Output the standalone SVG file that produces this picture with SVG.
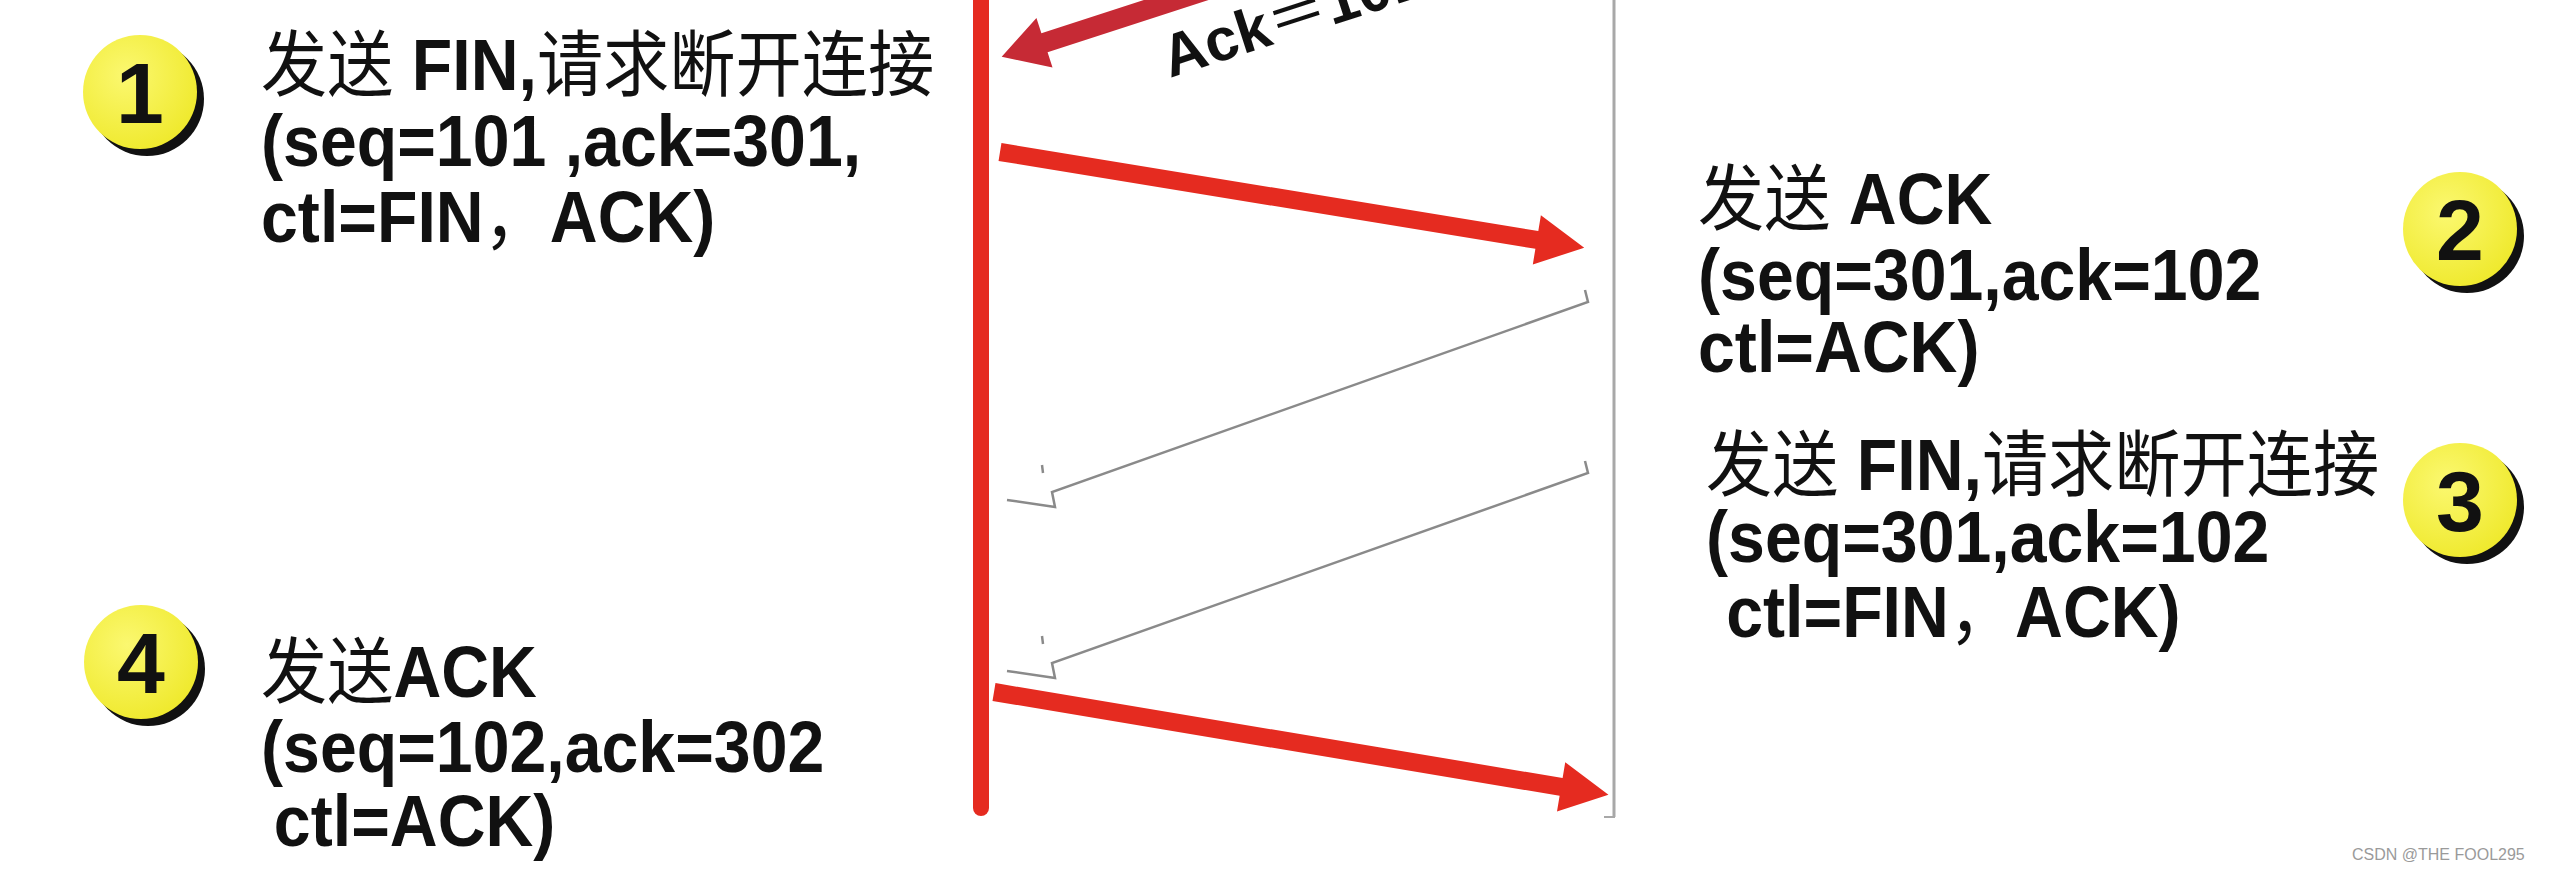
<svg xmlns="http://www.w3.org/2000/svg" width="2560" height="869" viewBox="0 0 2560 869">
<style>
.t{font-family:"Liberation Sans","Noto Sans CJK SC",sans-serif;font-size:72px;font-weight:bold;fill:#111}
.c{font-family:"Noto Sans CJK SC",sans-serif;font-weight:normal}
.num{font-family:"Liberation Sans",sans-serif;font-size:86px;font-weight:bold;fill:#111;text-anchor:middle}
.red{fill:#e52b20}
.gray{fill:none;stroke:#8a8a8a;stroke-width:2.5;stroke-linejoin:miter}
</style>
<defs>
<radialGradient id="yg" cx="0.38" cy="0.35" r="0.7">
<stop offset="0" stop-color="#fbf870"/>
<stop offset="1" stop-color="#efe92c"/>
</radialGradient>
</defs>
<rect width="2560" height="869" fill="#ffffff"/>

<g id="timelines">
<line x1="981" y1="-10" x2="981" y2="808" stroke="#e52b20" stroke-width="16" stroke-linecap="round"/>
<line x1="1614" y1="0" x2="1614" y2="817" stroke="#a8a8a8" stroke-width="3"/>
<line x1="1604" y1="817" x2="1615" y2="817" stroke="#a8a8a8" stroke-width="2"/>
</g>

<g id="connectors">
<path transform="translate(1287,-36) rotate(162)" fill="#c62a35" d="M0,-10 L255,-10 L255,-26 L300,0 L255,26 L255,10 L0,10 Z"/>
<path class="red" transform="translate(1000,152) rotate(9.3)" d="M0,-9 L544,-9 L544,-25 L592,0 L544,25 L544,9 L0,9 Z"/>
<path class="gray" d="M1585,290 L1588,302 L1052,492 L1055,507 L1007,500"/>
<path class="gray" d="M1042,465 L1043,473"/>
<path class="gray" d="M1585,461 L1588,473 L1052,663 L1055,678 L1007,671"/>
<path class="gray" d="M1042,636 L1043,644"/>
<path class="red" transform="translate(994,692) rotate(9.5)" d="M0,-9 L575,-9 L575,-25 L623,0 L575,25 L575,9 L0,9 Z"/>
<text x="1170" y="78" transform="rotate(-18 1170 78)" font-family="Liberation Sans, Noto Sans CJK SC, sans-serif" font-size="60" font-weight="bold" fill="#111">Ack<tspan class="c">＝</tspan>101</text>
</g>

<g id="step1">
<circle cx="147" cy="99" r="57" fill="#111"/>
<circle cx="140" cy="92" r="57" fill="url(#yg)"/>
<text class="num" x="140" y="123">1</text>
<g transform="translate(261,0) scale(0.92,1)">
<text class="t" x="0" y="90"><tspan class="c">发送</tspan> FIN,<tspan class="c">请求断开连接</tspan></text>
<text class="t" x="0" y="166">(seq=101 ,ack=301,</text>
<text class="t" x="0" y="242">ctl=FIN<tspan class="c">，</tspan>ACK)</text>
</g>
</g>

<g id="step2">
<circle cx="2467" cy="236" r="57" fill="#111"/>
<circle cx="2460" cy="229" r="57" fill="url(#yg)"/>
<text class="num" x="2460" y="260">2</text>
<g transform="translate(1698,0) scale(0.92,1)">
<text class="t" x="0" y="224"><tspan class="c">发送</tspan> ACK</text>
<text class="t" x="0" y="300">(seq=301,ack=102</text>
<text class="t" x="0" y="372">ctl=ACK)</text>
</g>
</g>

<g id="step3">
<circle cx="2467" cy="507" r="57" fill="#111"/>
<circle cx="2460" cy="500" r="57" fill="url(#yg)"/>
<text class="num" x="2460" y="531">3</text>
<g transform="translate(1706,0) scale(0.92,1)">
<text class="t" x="0" y="490"><tspan class="c">发送</tspan> FIN,<tspan class="c">请求断开连接</tspan></text>
<text class="t" x="0" y="562">(seq=301,ack=102</text>
<text class="t" x="22" y="637">ctl=FIN<tspan class="c">，</tspan>ACK)</text>
</g>
</g>

<g id="step4">
<circle cx="148" cy="669" r="57" fill="#111"/>
<circle cx="141" cy="662" r="57" fill="url(#yg)"/>
<text class="num" x="141" y="693">4</text>
<g transform="translate(261,0) scale(0.92,1)">
<text class="t" x="0" y="697"><tspan class="c">发送</tspan>ACK</text>
<text class="t" x="0" y="772">(seq=102,ack=302</text>
<text class="t" x="14" y="846">ctl=ACK)</text>
</g>
</g>

<text x="2352" y="860" font-family="Liberation Sans, sans-serif" font-size="16" fill="#9a9a9a">CSDN @THE FOOL295</text>
</svg>
